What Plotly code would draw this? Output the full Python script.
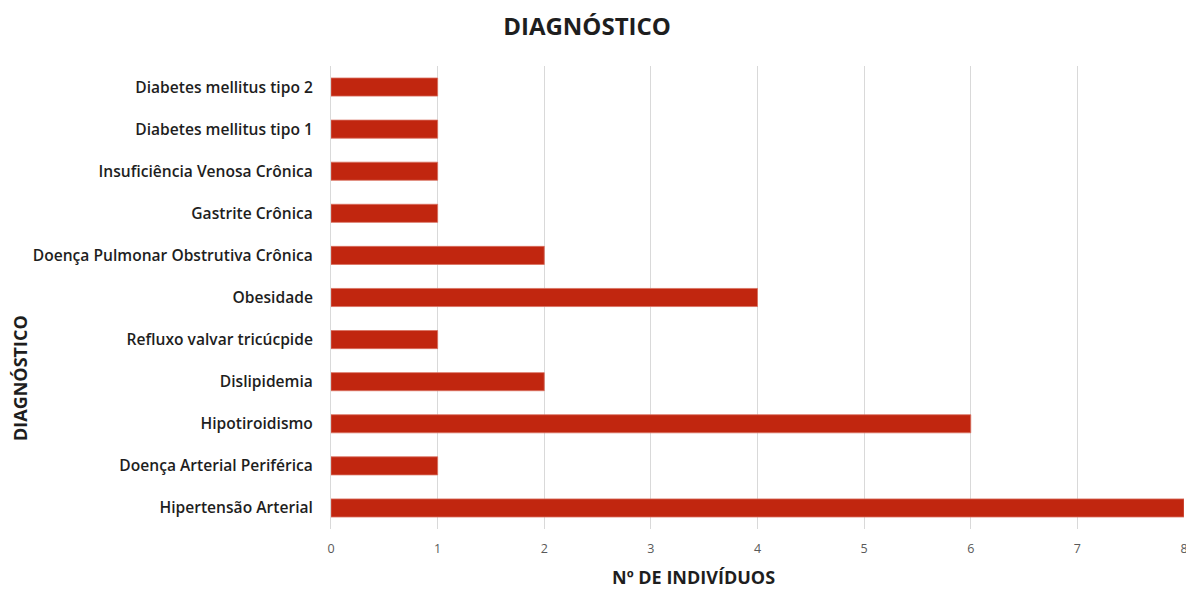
import plotly.graph_objects as go

# Diagnoses, listed top to bottom as shown on the chart
diagnosticos = [
    "Diabetes mellitus tipo 2",
    "Diabetes mellitus tipo 1",
    "Insuficiência Venosa Crônica",
    "Gastrite Crônica",
    "Doença Pulmonar Obstrutiva Crônica",
    "Obesidade",
    "Refluxo valvar tricúcpide",
    "Dislipidemia",
    "Hipotiroidismo",
    "Doença Arterial Periférica",
    "Hipertensão Arterial",
]
individuos = [1, 1, 1, 1, 2, 4, 1, 2, 6, 1, 8]

x_ticks = [0, 1, 2, 3, 4, 5, 6, 7, 8]

BAR_COLOR = "#C1260F"
FONT = "Open Sans"
TEXT = "#1e1e1e"
W, H = 1186, 590
ML, MR, MT, MB = 331, 2, 66, 61

fig = go.Figure(
    go.Bar(
        x=individuos,
        y=diagnosticos,
        orientation="h",
        width=0.43,
        marker=dict(color=BAR_COLOR, line=dict(width=0.8, color="#d9705f")),
        hoverinfo="x+y",
    )
)


def px_to_paper(px, py):
    """Convert page pixel coordinates into paper coordinates."""
    return (px - ML) / (W - ML - MR), (H - MB - py) / (H - MT - MB)


xt_x, xt_y = px_to_paper(693, 577)
yt_x, yt_y = px_to_paper(20, 378)

fig.update_layout(
    width=W,
    height=H,
    margin=dict(l=ML, r=MR, t=MT, b=MB, autoexpand=False),
    paper_bgcolor="white",
    plot_bgcolor="white",
    showlegend=False,
    title=dict(
        text="<b>DIAGNÓSTICO</b>",
        x=0.495,
        xanchor="center",
        y=0.955,
        yanchor="middle",
        font=dict(family=FONT, size=24, color=TEXT),
    ),
    xaxis=dict(
        range=[0, 8],
        tickvals=x_ticks,
        automargin=False,
        showgrid=True,
        gridcolor="#d9d9d9",
        gridwidth=1,
        zeroline=False,
        showline=False,
        ticks="",
        ticklabelstandoff=10,
        ticklabeloverflow="allow",
        tickfont=dict(family=FONT, size=12.5, color="#595959"),
    ),
    yaxis=dict(
        autorange="reversed",
        type="category",
        automargin=False,
        showgrid=False,
        zeroline=False,
        showline=True,
        linecolor="#d9d9d9",
        linewidth=1,
        ticks="",
        ticklabelstandoff=14,
        tickfont=dict(family=FONT, size=15.6, color=TEXT, weight=600),
    ),
    annotations=[
        dict(
            text="<b>Nº DE INDIVÍDUOS</b>",
            x=xt_x,
            xref="paper",
            y=xt_y,
            yref="paper",
            xanchor="center",
            yanchor="middle",
            showarrow=False,
            font=dict(family=FONT, size=18, color=TEXT),
        ),
        dict(
            text="<b>DIAGNÓSTICO</b>",
            textangle=-90,
            x=yt_x,
            xref="paper",
            y=yt_y,
            yref="paper",
            xanchor="center",
            yanchor="middle",
            showarrow=False,
            font=dict(family=FONT, size=18, color=TEXT),
        ),
    ],
)

fig.write_html("out.html")
